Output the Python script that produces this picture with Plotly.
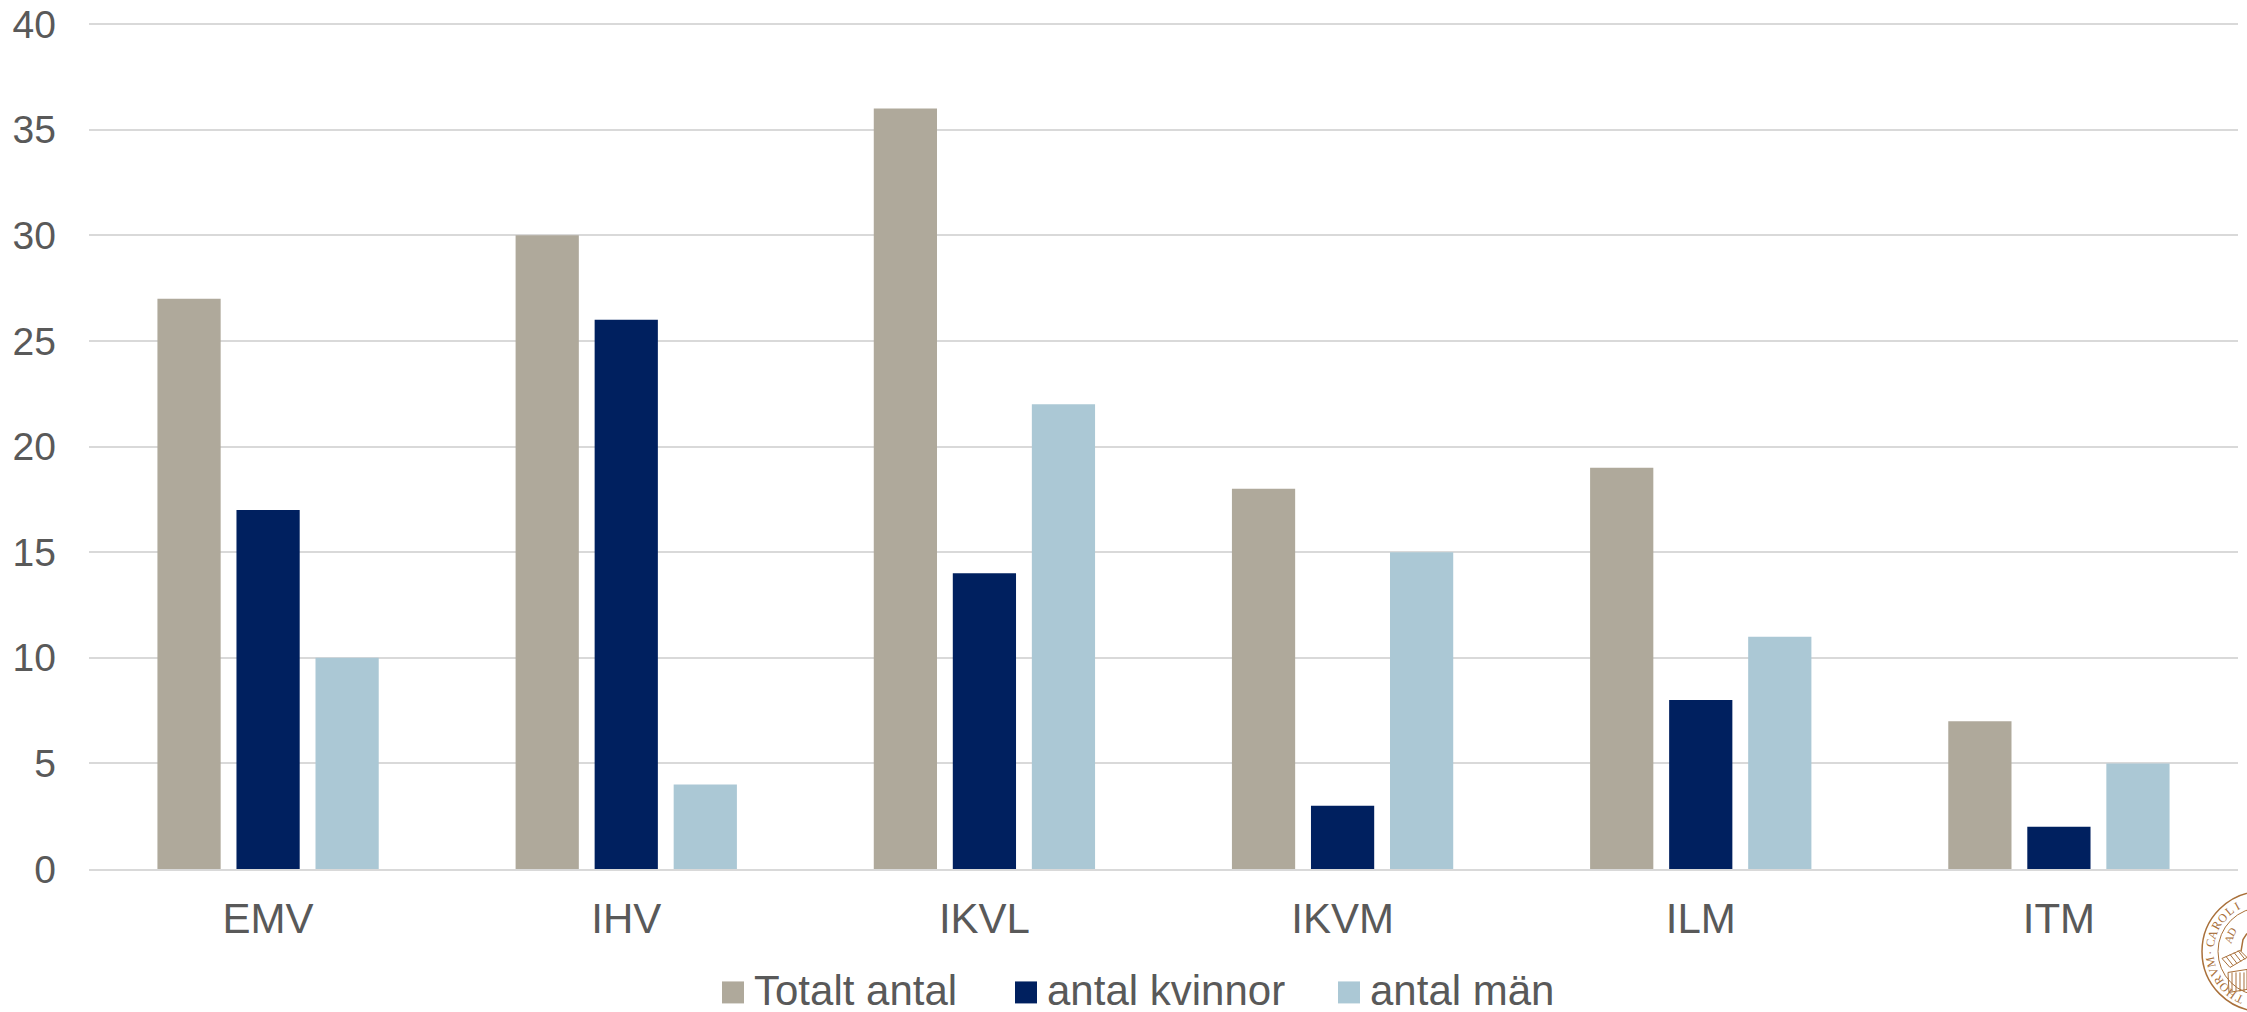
import math
import plotly.graph_objects as go

W, H = 2247, 1012
# plot area in page pixels, top is a bit above the 40 line so plotly keeps that gridline
L, R, T, B = 89, 2238, 22, 869.5

categories = ['EMV', 'IHV', 'IKVL', 'IKVM', 'ILM', 'ITM']
totalt = [27, 30, 36, 18, 19, 7]
kvinnor = [17, 26, 14, 3, 8, 2]
man = [10, 4, 22, 15, 11, 5]
y_ticks = [0, 5, 10, 15, 20, 25, 30, 35, 40]

series_names = ['Totalt antal', 'antal kvinnor', 'antal män']
colors = ['#AFA99B', '#00205F', '#ABC8D5']
legend_x = [722, 1015, 1338]  # swatch left edge

FONT = 'Liberation Sans, Arial, sans-serif'
GREY = '#595959'
BROWN = '#A9703A'


# paper coordinates are relative to the plot area
def px(x):
    return (x - L) / (R - L)


def py(y):
    return (B - y) / (B - T)


def path(points):
    return 'M' + 'L'.join(f'{px(x):.5f},{py(y):.5f}' for x, y in points)


fig = go.Figure()
for name, vals, col in zip(series_names, [totalt, kvinnor, man], colors):
    fig.add_trace(go.Bar(x=categories, y=vals, name=name, marker_color=col, marker_line_width=0))

shapes = []
annots = []

# legend drawn by hand, the native swatch is too small
for name, col, lx in zip(series_names, colors, legend_x):
    shapes.append(dict(type='rect', xref='paper', yref='paper', x0=px(lx), x1=px(lx + 22),
                       y0=py(1004), y1=py(982), fillcolor=col, line_width=0))
    # height keeps the text box inside the page, there are no descenders to lose
    annots.append(dict(text=name, xref='paper', yref='paper', x=px(lx + 30), y=py(991),
                       xanchor='left', yanchor='middle', showarrow=False, height=40,
                       font=dict(family=FONT, size=42, color=GREY)))

# university seal in the corner, cut off by the page edge
cx, cy = 2262, 952
for r, w in [(60, 1.5), (44, 1)]:
    shapes.append(dict(type='circle', xref='paper', yref='paper', x0=px(cx - r), x1=px(cx + r),
                       y0=py(cy + r), y1=py(cy - r), line=dict(color=BROWN, width=w)))


def ring_text(text, start, step, radius, size):
    for i, ch in enumerate(text):
        a = start + i * step
        x = cx + radius * math.cos(math.radians(a))
        y = cy + radius * math.sin(math.radians(a))
        if ch == ' ' or x > W - 7 or y > H - 7:
            continue
        annots.append(dict(text=ch, xref='paper', yref='paper', x=px(x), y=py(y),
                           xanchor='center', yanchor='middle', showarrow=False,
                           textangle=a + 90,
                           font=dict(family='Liberation Serif, serif', size=size, color=BROWN)))


ring_text('OTHORVM·CAROLINA', 105, 10.5, 52, 12)
ring_text('AD VT', 201, 11.5, 36, 11)

# the books in the middle of the seal
book_top = [(2222, 959), (2240, 951), (2247, 958), (2230, 968), (2222, 959)]
book_low = [(2228, 973), (2247, 970), (2247, 990), (2229, 993), (2228, 973)]
shapes.append(dict(type='path', xref='paper', yref='paper', path=path(book_top), line=dict(color=BROWN, width=1)))
shapes.append(dict(type='path', xref='paper', yref='paper', path=path(book_low), line=dict(color=BROWN, width=1)))
for i in range(4):
    shapes.append(dict(type='path', xref='paper', yref='paper',
                       path=path([(2226 + 4 * i, 957 - 2 * i), (2233 + 4 * i, 966 - 2 * i)]),
                       line=dict(color=BROWN, width=1)))
    shapes.append(dict(type='path', xref='paper', yref='paper',
                       path=path([(2232 + 4 * i, 973), (2232 + 4 * i, 992)]),
                       line=dict(color=BROWN, width=1)))
shapes.append(dict(type='path', xref='paper', yref='paper',
                   path=path([(2241, 952), (2243, 940), (2247, 934)]), line=dict(color=BROWN, width=1.5)))

fig.update_layout(
    width=W, height=H,
    margin=dict(l=L, r=W - R, t=T, b=H - B, autoexpand=False),
    paper_bgcolor='white', plot_bgcolor='white',
    barmode='group', bargap=0.338, bargroupgap=0.2,
    showlegend=False,
    shapes=shapes, annotations=annots,
    font=dict(family=FONT, color=GREY),
)
fig.update_xaxes(showline=True, linecolor='#D9D9D9', linewidth=2, showgrid=False, ticks='',
                 tickfont=dict(size=42, color=GREY), ticklabelstandoff=12)
fig.update_yaxes(range=[0, 40.1], tickvals=y_ticks, gridcolor='#D9D9D9', gridwidth=2, zeroline=False,
                 ticks='', tickfont=dict(size=39, color=GREY), ticklabelstandoff=32)

# the page default margin would push the figure 8px off
fig.write_html('out.html', config={'displayModeBar': False}, post_script="document.body.style.margin='0';")
